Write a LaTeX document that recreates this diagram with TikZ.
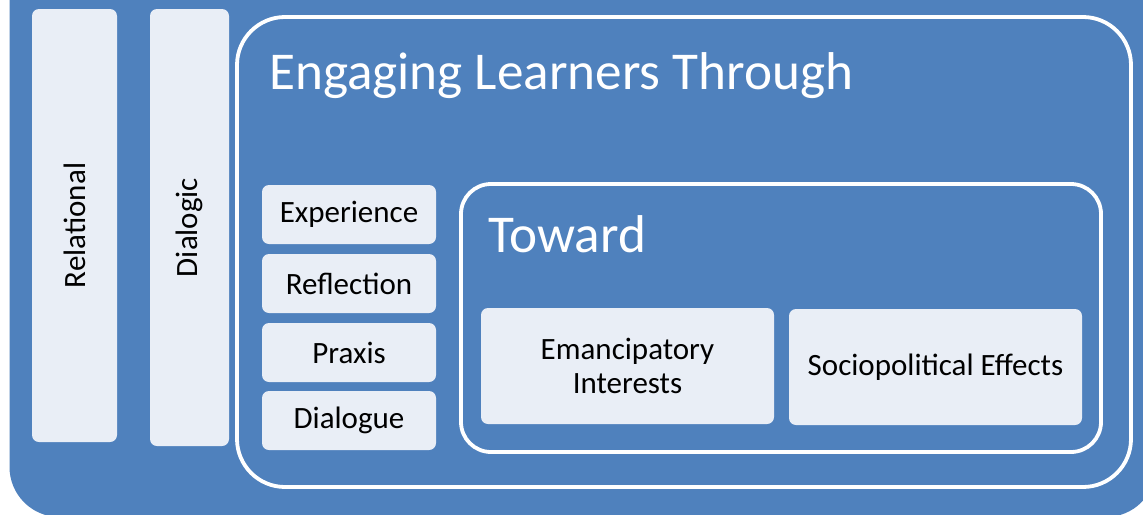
\documentclass[tikz,border=0pt]{standalone}
\usepackage{fontspec}
\setmainfont{Carlito}
\begin{document}
\definecolor{panelblue}{RGB}{79,129,189}
\definecolor{paleblue}{RGB}{233,238,246}
\begin{tikzpicture}[x=1pt,y=-1pt,
  tile/.style={draw=none,fill=paleblue,rounded corners=7pt,inner sep=0pt,
    text=black,align=center,font=\fontsize{31}{34}\selectfont},
  frame/.style={draw=white,line width=3.8pt,fill=none,inner sep=0pt},
  heading/.style={text=white,inner sep=0pt,font=\fontsize{53.2}{56}\selectfont}]
  \useasboundingbox (0,0) rectangle (1143,514);
  \fill[white] (0,0) rectangle (1143,514);
  \begin{scope}
    \clip (0,0) rectangle (1143,514);
    \fill[panelblue,rounded corners=50pt] (9.5,-60) rectangle (1156,517);
  \end{scope}
  % vertical side columns
  \node[tile,minimum width=85pt,minimum height=433pt] (rel) at (74.5,225.5)
    {\rotatebox{90}{Relational}};
  \node[tile,minimum width=79pt,minimum height=437pt] (dia) at (189.5,227.5)
    {\rotatebox{90}{Dialogic}};
  % outer and inner frames
  \node[frame,rounded corners=48pt,minimum width=894pt,minimum height=470pt] (eng) at (684,252) {};
  \node[frame,rounded corners=30pt,minimum width=640pt,minimum height=268pt] (tow) at (781,318) {};
  \node[heading,anchor=base west] (engtitle) at (269,89) {Engaging Learners Through};
  \node[heading,anchor=base west] (towtitle) at (488,252) {Toward};
  % stacked process tiles
  \node[tile,minimum width=174pt,minimum height=59pt] (exp) at (349,214.5) {Experience};
  \node[tile,minimum width=174pt,minimum height=59pt] (ref) at (349,283.5) {Reflection};
  \node[tile,minimum width=174pt,minimum height=59pt] (pra) at (349,352.5) {Praxis};
  \node[tile,minimum width=174pt,minimum height=59pt] (dlg) at (349,420.5) {Dialogue};
  % outcome tiles
  \node[tile,minimum width=293pt,minimum height=116pt] (ema) at (627.5,366) {Emancipatory\\Interests};
  \node[tile,minimum width=293pt,minimum height=116pt] (soc) at (935.5,367) {Sociopolitical Effects};
\end{tikzpicture}
\end{document}
